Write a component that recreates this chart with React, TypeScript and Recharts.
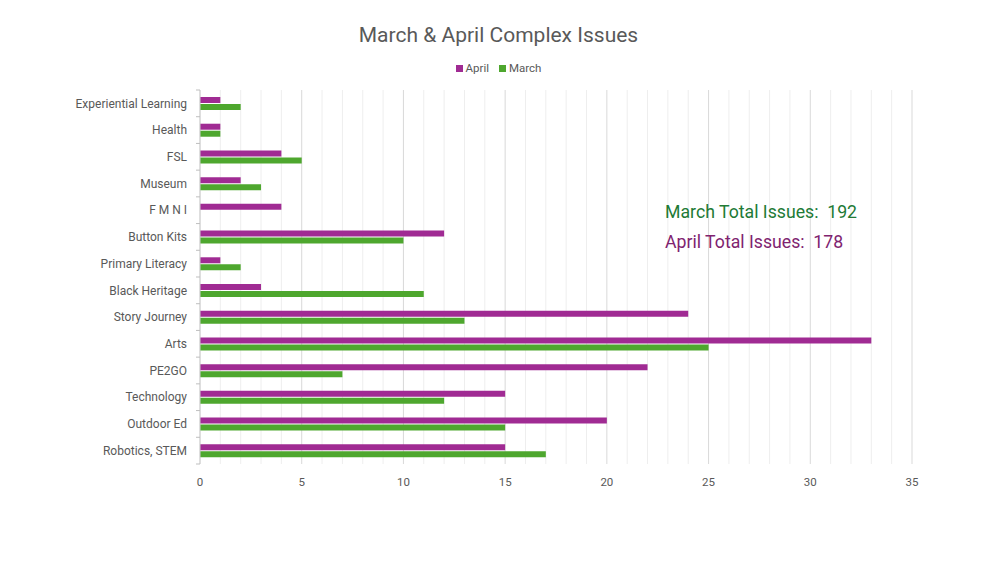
import React from 'react';
import { BarChart, Bar, XAxis, YAxis, CartesianGrid, Legend } from 'recharts';

const categories = [
  'Experiential Learning',
  'Health',
  'FSL',
  'Museum',
  'F M N I',
  'Button Kits',
  'Primary Literacy',
  'Black Heritage',
  'Story Journey',
  'Arts',
  'PE2GO',
  'Technology',
  'Outdoor Ed',
  'Robotics, STEM',
];
const aprilIssues = [1, 1, 4, 2, 4, 12, 1, 3, 24, 33, 22, 15, 20, 15];
const marchIssues = [2, 1, 5, 3, 0, 10, 2, 11, 13, 25, 7, 12, 15, 17];
const xTicks = Array.from({ length: 36 }, (_, i) => i);
const marchTotal = 192;
const aprilTotal = 178;

const APRIL = '#a02b93';
const MARCH = '#4ea72e';
const TEXT = '#595959';
const FONT = 'Roboto, "Open Sans", sans-serif';

const data = categories.map((name, i) => ({
  name,
  April: aprilIssues[i],
  March: marchIssues[i],
}));

// category labels with small tick marks on the band boundaries
const CategoryTick = (props: any) => {
  const { x, y, payload, index } = props;
  const half = payload.offset || 0;
  return (
    <g>
      <line x1={x - 4} x2={x} y1={y - half} y2={y - half} stroke="#bfbfbf" />
      {index === categories.length - 1 && (
        <line x1={x - 4} x2={x} y1={y + half} y2={y + half} stroke="#bfbfbf" />
      )}
      <text x={x - 13} y={y} dy="0.35em" textAnchor="end" fill={TEXT} fontSize={12} fontFamily={FONT}>
        {payload.value}
      </text>
    </g>
  );
};

const GridLine = (props: any) => {
  const { x1, x2, y1, y2, index } = props;
  const major = index % 5 === 0;
  return <line x1={x1} x2={x2} y1={y1} y2={y2} stroke={major ? '#d9d9d9' : '#eeeeee'} strokeWidth={1} />;
};

const LegendContent = () => (
  <div style={{ display: 'flex', justifyContent: 'center', gap: 10, fontFamily: FONT, fontSize: 11.5, color: TEXT }}>
    {[
      { label: 'April', color: APRIL },
      { label: 'March', color: MARCH },
    ].map((item) => (
      <span key={item.label} style={{ display: 'flex', alignItems: 'center' }}>
        <span style={{ width: 7, height: 7, background: item.color, marginRight: 3, display: 'inline-block' }} />
        {item.label}
      </span>
    ))}
  </div>
);

export default function App() {
  return (
    <div style={{ position: 'absolute', left: 0, top: 0, width: 997, height: 562, background: '#fff' }}>
      <div
        style={{
          position: 'absolute',
          top: 23,
          width: 997,
          textAlign: 'center',
          fontFamily: FONT,
          fontSize: 21,
          color: TEXT,
        }}
      >
        March &amp; April Complex Issues
      </div>
      <BarChart
        width={997}
        height={562}
        data={data}
        layout="vertical"
        margin={{ top: 90, right: 85, bottom: 68, left: 10 }}
        barSize={6}
        barGap={1}
      >
        <CartesianGrid horizontal={false} vertical={GridLine} />
        <XAxis
          type="number"
          domain={[0, 35]}
          ticks={xTicks}
          interval={0}
          tickFormatter={(v: number) => (v % 5 === 0 ? String(v) : '')}
          axisLine={false}
          tickLine={false}
          tickMargin={8}
          tick={{ fill: TEXT, fontSize: 11.5, fontFamily: FONT }}
        />
        <YAxis
          type="category"
          dataKey="name"
          width={190}
          interval={0}
          axisLine={{ stroke: '#d0d0d0' }}
          tickLine={false}
          tickSize={0}
          tickMargin={0}
          tick={<CategoryTick />}
        />
        <Legend
          verticalAlign="middle"
          align="center"
          content={<LegendContent />}
          wrapperStyle={{ top: 61, left: 0, width: 997 }}
        />
        <Bar dataKey="April" fill={APRIL} isAnimationActive={false} />
        <Bar dataKey="March" fill={MARCH} isAnimationActive={false} />
      </BarChart>
      <div style={{ position: 'absolute', left: 665, top: 202, fontFamily: FONT, fontSize: 17.7, color: '#217a35', whiteSpace: 'pre' }}>
        {`March Total Issues:  ${marchTotal}`}
      </div>
      <div style={{ position: 'absolute', left: 665, top: 232, fontFamily: FONT, fontSize: 17.7, color: '#80236f', whiteSpace: 'pre' }}>
        {`April Total Issues:  ${aprilTotal}`}
      </div>
    </div>
  );
}
